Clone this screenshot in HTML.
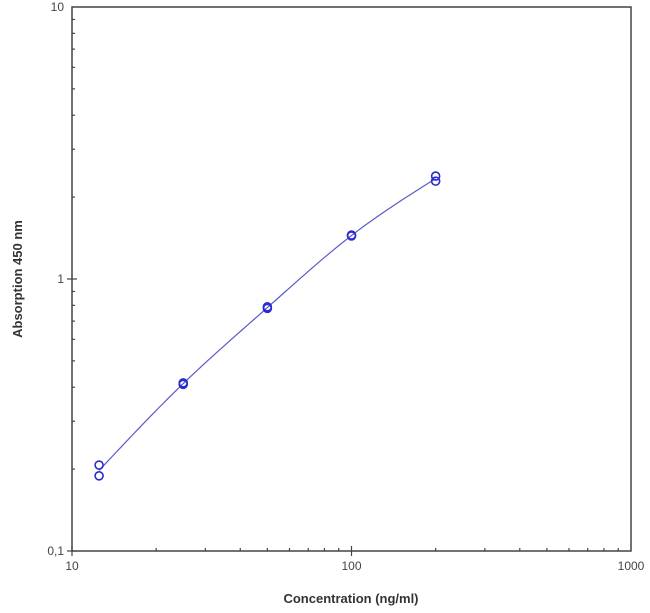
<!DOCTYPE html>
<html><head><meta charset="utf-8"><style>
html,body{margin:0;padding:0;background:#fff;}
svg{display:block;font-family:"Liberation Sans",sans-serif;}
</style></head><body>
<svg id="chart" width="650" height="613">
<g id="axes"></g>
<g id="marks"></g>
<text x="351" y="603" font-size="13" font-weight="bold" text-anchor="middle" fill="#333">Concentration (ng/ml)</text>
<text transform="translate(22,279) rotate(-90)" font-size="13" font-weight="bold" text-anchor="middle" fill="#333">Absorption 450 nm</text>
</svg>
<script>
const concentrations=[12.5,12.5,25,25,50,50,100,100,200,200];
const absorbance=[0.207,0.189,0.415,0.41,0.79,0.78,1.45,1.44,2.39,2.29];
const xTicks=[10,100,1000];
const xTickLabels=["10","100","1000"];
const yTicks=[0.1,1,10];
const yTickLabels=["0,1","1","10"];
const L=72,R=631,T=7,B=551;
const NS="http://www.w3.org/2000/svg";
function xs(v){return L+(Math.log10(v)-1)/2*(R-L);}
function ys(v){return B-(Math.log10(v)+1)/2*(B-T);}
function mk(tag,attrs,parent){const e=document.createElementNS(NS,tag);for(const k in attrs)e.setAttribute(k,attrs[k]);parent.appendChild(e);return e;}
const ax=document.getElementById('axes'),mg=document.getElementById('marks');
let fr=mk('rect',{x:L,y:T,width:R-L,height:B-T,fill:'none',stroke:'#444','stroke-width':1.5},ax);


for(let d=0;d<2;d++)for(let m=1;m<10;m++){
 const v=Math.pow(10,1+d)*m;const x=xs(v);
 let t=mk('line',{x1:x,x2:x,y1:B-(m==1?5:3),y2:B+(m==1?5:0),stroke:'#444','stroke-width':1.2},ax);
 
 
 const yv=Math.pow(10,-1+d)*m;const y=ys(yv);
 let u=mk('line',{x1:L-(m==1?5:0),x2:L+(m==1?5:3),y1:y,y2:y,stroke:'#444','stroke-width':1.2},ax);
 
 
}
xTicks.forEach((v,i)=>{let t=mk('text',{x:xs(v),y:B+19,'font-size':12,'text-anchor':'middle',fill:'#444'},ax);t.textContent=xTickLabels[i];
 
 });
yTicks.forEach((v,i)=>{let t=mk('text',{x:L-8,y:ys(v)+4,'font-size':12,'text-anchor':'end',fill:'#444'},ax);t.textContent=yTickLabels[i];
 
 });
const ux=[...new Set(concentrations)];
const px=ux.map(c=>Math.log10(c));
const py=ux.map(c=>{const vs=absorbance.filter((a,i)=>concentrations[i]===c);return vs.reduce((s,a)=>s+Math.log10(a),0)/vs.length;});
const n=px.length,h=[],al=[],l=[1],mu=[0],z=[0],c=new Array(n).fill(0),b=[],dd=[];
for(let i=0;i<n-1;i++)h.push(px[i+1]-px[i]);
for(let i=1;i<n-1;i++)al[i]=3/h[i]*(py[i+1]-py[i])-3/h[i-1]*(py[i]-py[i-1]);
for(let i=1;i<n-1;i++){l[i]=2*(px[i+1]-px[i-1])-h[i-1]*mu[i-1];mu[i]=h[i]/l[i];z[i]=(al[i]-h[i-1]*z[i-1])/l[i];}
l[n-1]=1;z[n-1]=0;
for(let j=n-2;j>=0;j--){c[j]=z[j]-mu[j]*c[j+1];b[j]=(py[j+1]-py[j])/h[j]-h[j]*(c[j+1]+2*c[j])/3;dd[j]=(c[j+1]-c[j])/(3*h[j]);}
let pts=[];
for(let j=0;j<n-1;j++)for(let k=0;k<=20;k++){const t=h[j]*k/20;const yy=py[j]+b[j]*t+c[j]*t*t+dd[j]*t*t*t;pts.push(xs(Math.pow(10,px[j]+t))+','+ys(Math.pow(10,yy)));}
let ln=mk('polyline',{points:pts.join(' '),fill:'none',stroke:'#5a5ac8','stroke-width':1.2},mg);


concentrations.forEach((cv,i)=>{let p=mk('circle',{cx:xs(cv),cy:ys(absorbance[i]),r:4,fill:'none',stroke:'#2a2ad0','stroke-width':1.6},mg);
 
 });
</script>
</body></html>
